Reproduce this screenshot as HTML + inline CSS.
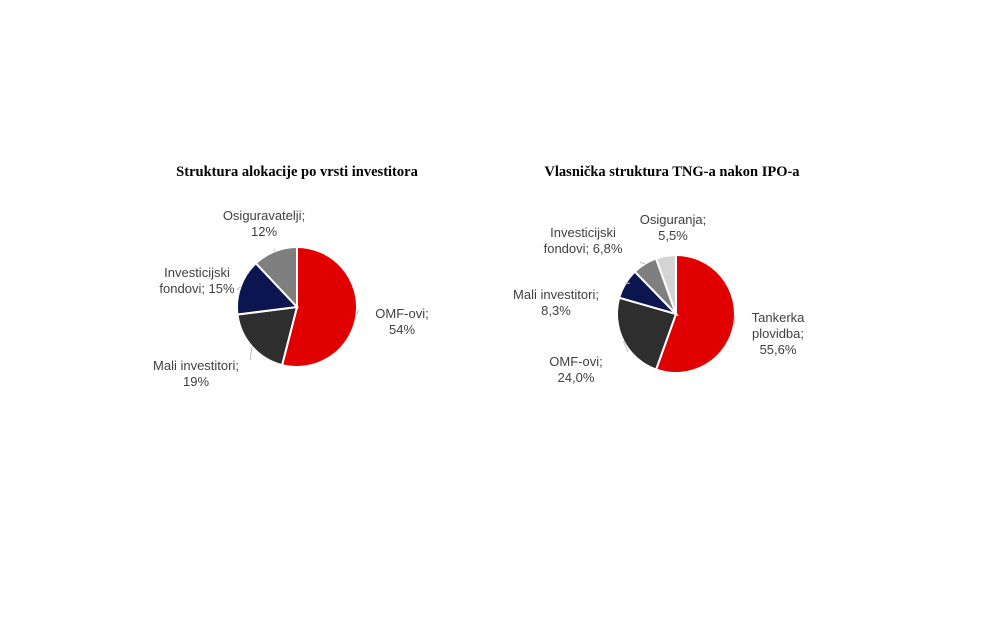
<!DOCTYPE html>
<html><head><meta charset="utf-8"><style>
body{margin:0;background:#fff;width:1000px;height:635px;overflow:hidden}
svg text{font-family:"Liberation Sans",sans-serif;font-size:13px;fill:#404040}
svg text.t{font-family:"Liberation Serif",serif;font-size:14.5px;font-weight:bold;fill:#000}
</style></head><body>
<svg id="c" width="1000" height="635">
<text class="t" x="297" y="176" text-anchor="middle">Struktura alokacije po vrsti investitora</text>
<text class="t" x="672" y="176" text-anchor="middle">Vlasnička struktura TNG-a nakon IPO-a</text>
</svg>
<script>
const leftCategories=["OMF-ovi","Mali investitori","Investicijski fondovi","Osiguravatelji"];
const leftValues=[54,19,15,12];
const leftLabels=[["OMF-ovi;","54%"],["Mali investitori;","19%"],["Investicijski","fondovi; 15%"],["Osiguravatelji;","12%"]];
const rightCategories=["Tankerka plovidba","OMF-ovi","Mali investitori","Investicijski fondovi","Osiguranja"];
const rightValues=[55.6,24.0,8.3,6.8,5.5];
const rightLabels=[["Tankerka","plovidba;","55,6%"],["OMF-ovi;","24,0%"],["Mali investitori;","8,3%"],["Investicijski","fondovi; 6,8%"],["Osiguranja;","5,5%"]];
const leftColors=["#e00000","#2e2e2e","#0b1550","#7f7f7f"];
const rightColors=["#e00000","#2e2e2e","#0b1550","#7f7f7f","#d4d4d4"];
const svg=document.getElementById('c');const NS="http://www.w3.org/2000/svg";
function pie(prefix,cx,cy,r,vals,cats,colors,labels,labelPos){
  const tot=vals.reduce((a,b)=>a+b,0);let a0=0;
  vals.forEach((v,i)=>{
    const a1=a0+v/tot*2*Math.PI;
    const x0=cx+r*Math.sin(a0),y0=cy-r*Math.cos(a0),x1=cx+r*Math.sin(a1),y1=cy-r*Math.cos(a1);
    const p=document.createElementNS(NS,'path');
    p.setAttribute('d',`M${cx},${cy}L${x0},${y0}A${r},${r} 0 ${a1-a0>Math.PI?1:0} 1 ${x1},${y1}Z`);
    p.setAttribute('fill',colors[i]);p.setAttribute('stroke','#fff');p.setAttribute('stroke-width','2');
    
    
    svg.appendChild(p);
    const am=(a0+a1)/2;const lp=labelPos[i];
    const ex=cx+r*Math.sin(am),ey=cy-r*Math.cos(am);
    const ln=document.createElementNS(NS,'line');
    ln.setAttribute('x1',ex);ln.setAttribute('y1',ey);ln.setAttribute('x2',lp[2]);ln.setAttribute('y2',lp[3]);
    ln.setAttribute('stroke','#bfbfbf');ln.setAttribute('stroke-width','1');
    
    
    svg.appendChild(ln);
    const t=document.createElementNS(NS,'text');
    t.setAttribute('x',lp[0]);t.setAttribute('y',lp[1]);t.setAttribute('text-anchor','middle');
    
    
    labels[i].forEach((s,k)=>{const ts=document.createElementNS(NS,'tspan');ts.setAttribute('x',lp[0]);ts.setAttribute('dy',k?16:0);ts.textContent=s;t.appendChild(ts);});
    svg.appendChild(t);
    a0=a1;
  });
}
pie('left',297,307,60,leftValues,leftCategories,leftColors,leftLabels,
 [[402,318,359,310],[196,370,250,360],[197,277,237,290],[264,220,274,249]]);
pie('right',676,314,59,rightValues,rightCategories,rightColors,rightLabels,
 [[778,322,735,316],[576,366,628,352],[556,299,630,283],[583,237,640,262],[673,224,666,256]]);
</script>
</body></html>
